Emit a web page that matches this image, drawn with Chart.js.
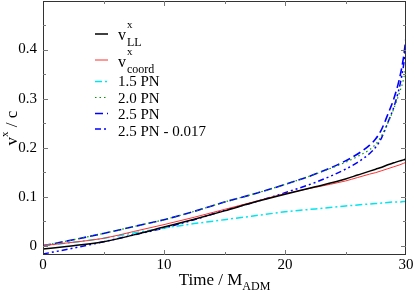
<!DOCTYPE html>
<html>
<head>
<meta charset="utf-8">
<script src="https://cdn.jsdelivr.net/npm/chart.js"></script>
<style>
  html, body { margin: 0; padding: 0; background: #fff; }
  #wrap { width: 415px; height: 293px; }
</style>
</head>
<body>
<div id="wrap"><canvas id="chart"></canvas></div>
<script>
const time = [0, 2.5, 5, 7.5, 10, 12.5, 15, 17.5, 20, 22.5, 25, 26, 27, 27.5, 28, 28.5, 29, 29.5, 29.8, 30];
const vLL = [-0.007, 0.000, 0.008, 0.022, 0.038, 0.054, 0.071, 0.089, 0.105, 0.120, 0.136, 0.144, 0.152, 0.156, 0.160, 0.165, 0.169, 0.173, 0.175, 0.177];
const vCoord = [0.000, 0.007, 0.015, 0.029, 0.043, 0.058, 0.074, 0.090, 0.106, 0.119, 0.132, 0.139, 0.146, 0.149, 0.153, 0.157, 0.161, 0.165, 0.168, 0.170];
const pn15 = [0.000, 0.007, 0.015, 0.026, 0.036, 0.045, 0.053, 0.061, 0.069, 0.075, 0.081, 0.083, 0.085, 0.086, 0.087, 0.088, 0.089, 0.089, 0.090, 0.090];
const pn20 = [0.000, 0.012, 0.025, 0.039, 0.053, 0.070, 0.089, 0.106, 0.125, 0.146, 0.170, 0.182, 0.196, 0.207, 0.225, 0.250, 0.280, 0.315, 0.340, 0.367];
const pn25 = [0.000, 0.012, 0.025, 0.039, 0.053, 0.070, 0.089, 0.106, 0.125, 0.146, 0.173, 0.187, 0.205, 0.218, 0.238, 0.268, 0.300, 0.345, 0.385, 0.425];
const pn25shift = [-0.017, -0.005, 0.008, 0.022, 0.036, 0.053, 0.072, 0.089, 0.108, 0.129, 0.156, 0.170, 0.188, 0.201, 0.221, 0.251, 0.283, 0.328, 0.368, 0.408];

const xTicks = [0, 10, 20, 30];
const xMinor = [5, 15, 25];
const yTicks = [0, 0.1, 0.2, 0.3, 0.4];
const yMinor = [0.05, 0.15, 0.25, 0.35, 0.45];

const serif = '"Liberation Serif", "Times New Roman", serif';

function pts(ys) {
    return time.map((t, i) => ({ x: t, y: ys[i] }));
}

const series = [
    { data: vLL, color: '#000000', width: 1.5, dash: [] },
    { data: vCoord, color: '#ff3030', width: 1, dash: [] },
    { data: pn15, color: '#00e5ee', width: 1.5, dash: [7, 3, 2, 3] },
    { data: pn20, color: '#009a00', width: 1.2, dash: [1.5, 3] },
    { data: pn25, color: '#0000ff', width: 1.6, dash: [8, 4] },
    { data: pn25shift, color: '#0000ff', width: 1.5, dash: [6, 3, 2, 3, 2, 3] }
];

const frame = {
    id: 'frame',
    afterDraw(chart) {
        const ctx = chart.ctx;
        const a = chart.chartArea;
        const xs = chart.scales.x, ys = chart.scales.y;
        ctx.save();
        ctx.strokeStyle = '#333';
        ctx.lineWidth = 1;
        ctx.strokeRect(a.left + 0.5, a.top + 0.5, a.right - a.left - 1, a.bottom - a.top - 1);

        // inward ticks on all four sides
        ctx.strokeStyle = '#777';
        ctx.beginPath();
        const tx = (v, len) => {
            const p = Math.round(xs.getPixelForValue(v)) + 0.5;
            ctx.moveTo(p, a.bottom); ctx.lineTo(p, a.bottom - len);
            ctx.moveTo(p, a.top); ctx.lineTo(p, a.top + len);
        };
        const ty = (v, len) => {
            const p = Math.round(ys.getPixelForValue(v)) + 0.5;
            ctx.moveTo(a.left, p); ctx.lineTo(a.left + len, p);
            ctx.moveTo(a.right, p); ctx.lineTo(a.right - len, p);
        };
        xTicks.slice(1, -1).forEach(v => tx(v, 5));
        xMinor.forEach(v => tx(v, 3));
        yTicks.forEach(v => ty(v, 5));
        yMinor.forEach(v => ty(v, 3));
        ctx.stroke();

        // tick labels
        ctx.fillStyle = '#000';
        ctx.font = '15px ' + serif;
        ctx.textAlign = 'center';
        ctx.textBaseline = 'alphabetic';
        xTicks.forEach(v => ctx.fillText(String(v), xs.getPixelForValue(v), 269));
        ctx.textAlign = 'right';
        ctx.textBaseline = 'middle';
        yTicks.forEach(v => {
            const label = v === 0 ? '0' : v.toFixed(1);
            ctx.fillText(label, a.left - 6, ys.getPixelForValue(v));
        });

        // legend
        ctx.textBaseline = 'alphabetic';
        ctx.textAlign = 'left';
        const lineY = [34, 60, 81.5, 97.5, 113.5, 129];
        series.forEach((s, i) => {
            ctx.beginPath();
            ctx.strokeStyle = s.color;
            ctx.lineWidth = s.width;
            ctx.setLineDash(s.dash);
            ctx.moveTo(95, lineY[i]);
            ctx.lineTo(108, lineY[i]);
            ctx.stroke();
        });
        ctx.setLineDash([]);
        const tx0 = 118;
        ctx.font = '16px ' + serif;
        ctx.fillText('v', tx0, 40);
        ctx.fillText('v', tx0, 67);
        ctx.font = '11px ' + serif;
        ctx.fillText('x', tx0 + 9, 28);
        ctx.fillText('x', tx0 + 9, 55);
        ctx.font = '12px ' + serif;
        ctx.fillText('LL', tx0 + 9, 46);
        ctx.fillText('coord', tx0 + 9, 73);
        ctx.font = '15px ' + serif;
        ctx.fillText('1.5 PN', tx0, 86);
        ctx.fillText('2.0 PN', tx0, 102.5);
        ctx.fillText('2.5 PN', tx0, 119);
        ctx.fillText('2.5 PN - 0.017', tx0, 135.5);

        // x axis title
        ctx.font = '17px ' + serif;
        const t1 = 'Time / M';
        const w1 = ctx.measureText(t1).width;
        ctx.font = '12px ' + serif;
        const w2 = ctx.measureText('ADM').width;
        let x0 = (a.left + a.right) / 2 - (w1 + w2) / 2;
        ctx.font = '17px ' + serif;
        ctx.fillText(t1, x0, 285);
        ctx.font = '12px ' + serif;
        ctx.fillText('ADM', x0 + w1, 290);

        // y axis title
        ctx.translate(17, (a.top + a.bottom) / 2);
        ctx.rotate(-Math.PI / 2);
        ctx.font = '17px ' + serif;
        const wv = ctx.measureText('v').width;
        const wr = ctx.measureText(' / c').width;
        ctx.font = '11px ' + serif;
        const wx = ctx.measureText('x').width;
        let y0 = -(wv + wx + wr) / 2;
        ctx.font = '17px ' + serif;
        ctx.fillText('v', y0, 0);
        ctx.font = '11px ' + serif;
        ctx.fillText('x', y0 + wv, -9);
        ctx.font = '17px ' + serif;
        ctx.fillText(' / c', y0 + wv + wx, 0);
        ctx.restore();
    }
};

new Chart(document.getElementById('chart'), {
    type: 'line',
    data: {
        datasets: series.map(s => ({
            data: pts(s.data),
            borderColor: s.color,
            borderWidth: s.width,
            borderDash: s.dash,
            pointRadius: 0,
            fill: false,
            cubicInterpolationMode: 'monotone'
        }))
    },
    options: {
        responsive: true,
        maintainAspectRatio: false,
        animation: false,
        layout: { padding: { top: 1, right: 9, left: 43, bottom: 38 } },
        plugins: { legend: { display: false }, tooltip: { enabled: false } },
        scales: {
            x: { type: 'linear', display: false, min: 0, max: 30 },
            y: { type: 'linear', display: false, min: -0.019, max: 0.499 }
        }
    },
    plugins: [frame]
});
</script>
</body>
</html>
